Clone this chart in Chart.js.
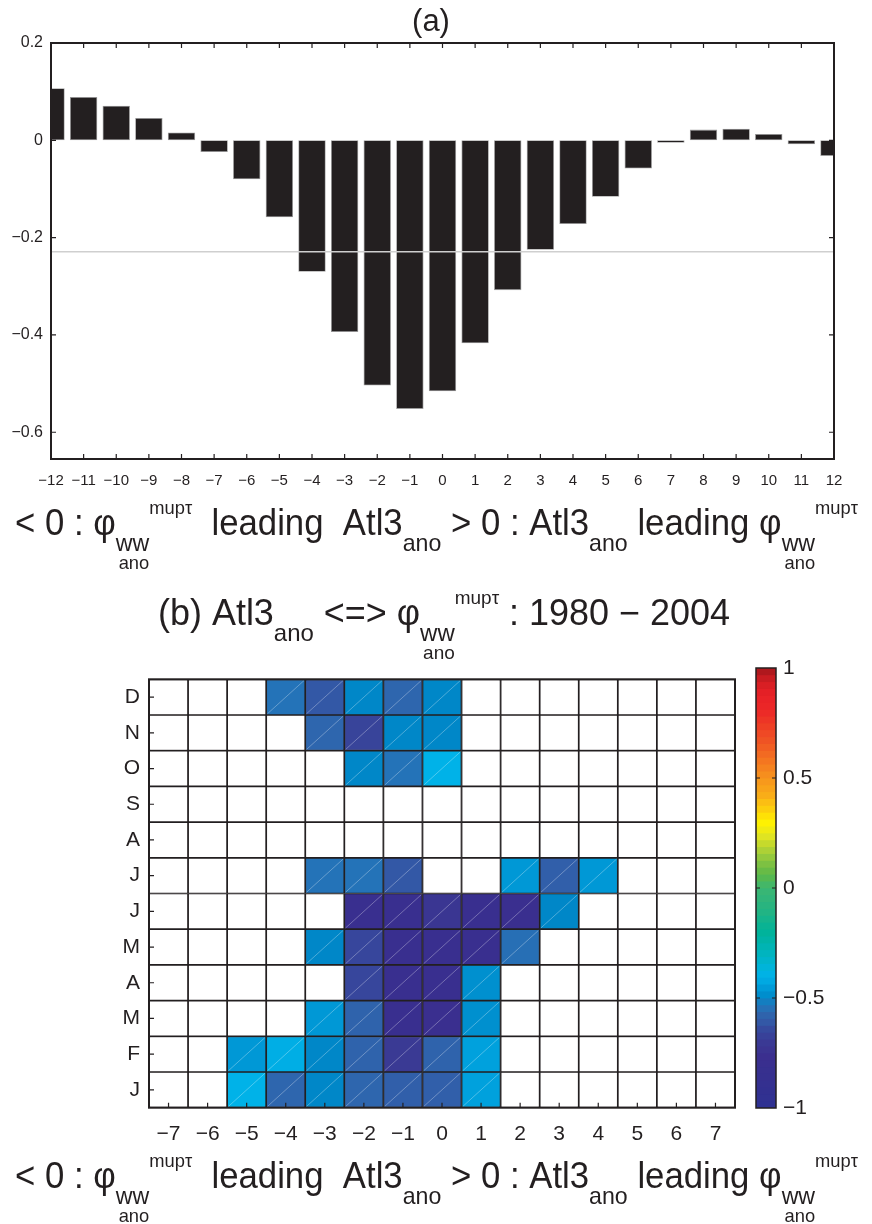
<!DOCTYPE html>
<html>
<head>
<meta charset="utf-8">
<script src="https://cdn.jsdelivr.net/npm/chart.js@4.4.1/dist/chart.umd.min.js"></script>
<style>
  html, body { margin: 0; padding: 0; background: #fff; }
  body { width: 872px; height: 1224px; position: relative; overflow: hidden; }
  canvas { position: absolute; }
  #lagChart { left: 0; top: 0; }
  #monthChart { left: 0; top: 590px; }
  #colorBar { left: 700px; top: 640px; }
</style>
</head>
<body>
<canvas id="lagChart" width="872" height="590"></canvas>
<canvas id="monthChart" width="872" height="634"></canvas>
<canvas id="colorBar" width="172" height="500"></canvas>
<script>
// ---- panel (a): lagged correlation, lags in months ----
const lagsA = [-12, -11, -10, -9, -8, -7, -6, -5, -4, -3, -2, -1, 0, 1, 2, 3, 4, 5, 6, 7, 8, 9, 10, 11, 12];
const corrA = [0.107, 0.089, 0.071, 0.046, 0.016, -0.024, -0.080, -0.158, -0.270, -0.394, -0.504, -0.552,
               -0.516, -0.417, -0.308, -0.225, -0.172, -0.116, -0.058, -0.005, 0.022, 0.024, 0.013, -0.008, -0.032];
const sigLevelA = -0.229;
const yTicksA = [-0.6, -0.4, -0.2, 0, 0.2];

// ---- panel (b): correlation by calendar month and lag ----
const lagsB = [-7, -6, -5, -4, -3, -2, -1, 0, 1, 2, 3, 4, 5, 6, 7];
const monthLetters = ['J', 'F', 'M', 'A', 'M', 'J', 'J', 'A', 'S', 'O', 'N', 'D'];
const _ = null; // not significant
const jan = [_, _, -0.40, -0.57, -0.50, -0.57, -0.59, -0.59, -0.44, _, _, _, _, _, _];
const feb = [_, _, -0.46, -0.41, -0.50, -0.58, -0.70, -0.58, -0.44, _, _, _, _, _, _];
const mar = [_, _, _, _, -0.46, -0.58, -0.80, -0.78, -0.48, _, _, _, _, _, _];
const apr = [_, _, _, _, _, -0.65, -0.80, -0.80, -0.48, _, _, _, _, _, _];
const may = [_, _, _, _, -0.50, -0.65, -0.80, -0.80, -0.80, -0.55, _, _, _, _, _];
const jun = [_, _, _, _, _, -0.80, -0.80, -0.72, -0.80, -0.78, -0.50, _, _, _, _];
const jul = [_, _, _, _, -0.54, -0.54, -0.61, _, _, -0.46, -0.59, -0.46, _, _, _];
const aug = [_, _, _, _, _, _, _, _, _, _, _, _, _, _, _];
const sep = [_, _, _, _, _, _, _, _, _, _, _, _, _, _, _];
const oct = [_, _, _, _, _, -0.50, -0.54, -0.40, _, _, _, _, _, _, _];
const nov = [_, _, _, _, -0.57, -0.66, -0.50, -0.50, _, _, _, _, _, _, _];
const dec = [_, _, _, -0.54, -0.61, -0.50, -0.57, -0.50, _, _, _, _, _, _, _];
const monthRows = [jan, feb, mar, apr, may, jun, jul, aug, sep, oct, nov, dec];
const colorBarTicks = [-1, -0.5, 0, 0.5, 1];

// ---- colour scale ----
const colorStops = [
  [-1.00, '#2e3192'], [-0.85, '#36308f'], [-0.76, '#3b2f8f'], [-0.70, '#3a3a94'],
  [-0.65, '#37469c'], [-0.61, '#3358a6'], [-0.57, '#2e66ae'], [-0.54, '#2473b8'],
  [-0.52, '#1a7cbe'], [-0.50, '#0087c8'], [-0.46, '#0098d6'], [-0.43, '#00a6e0'],
  [-0.40, '#00b2e8'], [-0.35, '#00b4d6'], [-0.30, '#00b4c0'], [-0.20, '#00b39a'],
  [-0.10, '#24b482'], [0.00, '#3cb672'], [0.06, '#5cb848'], [0.12, '#84c341'],
  [0.18, '#b3d334'], [0.24, '#e4e620'], [0.30, '#fff200'], [0.35, '#fdd30b'],
  [0.42, '#f9ae18'], [0.50, '#f7941d'], [0.58, '#f47520'], [0.65, '#f05a24'],
  [0.73, '#ee4025'], [0.80, '#ec2a27'], [0.88, '#e82027'], [0.94, '#d21e23'], [1.00, '#a3161b']
];
function hexRgb(h) { return [1, 3, 5].map(i => parseInt(h.substr(i, 2), 16)); }
function colorFor(v) {
  if (v === null || v === undefined) return '#ffffff';
  v = Math.max(-1, Math.min(1, v));
  for (let i = 1; i < colorStops.length; i++) {
    const [v1, c1] = colorStops[i];
    if (v <= v1) {
      const [v0, c0] = colorStops[i - 1];
      const t = (v - v0) / (v1 - v0);
      const a = hexRgb(c0), b = hexRgb(c1);
      const m = a.map((x, k) => Math.round(x + (b[k] - x) * t));
      return `rgb(${m[0]},${m[1]},${m[2]})`;
    }
  }
  return colorStops[colorStops.length - 1][1];
}

const INK = '#231f20';
const FAMILY = "'Liberation Sans', Arial, Helvetica, sans-serif";
Chart.defaults.font.family = FAMILY;
Chart.defaults.color = INK;
const fmt = v => (v < 0 ? '\u2212' : '') + String(Math.abs(v));

// Text with sub/superscripts, stretched horizontally to span [x0, x1]
function drawRich(ctx, pieces, x0, x1, baseline) {
  let cx = 0;
  const laid = pieces.map(p => {
    ctx.font = `${p.s}px ${FAMILY}`;
    const w = ctx.measureText(p.t).width;
    const q = Object.assign({}, p, { x: cx + (p.dx || 0) });
    if (p.adv !== false) cx += w;
    return q;
  });
  const k = (x1 - x0) / cx;
  ctx.save();
  ctx.fillStyle = INK;
  ctx.textBaseline = 'alphabetic';
  ctx.textAlign = 'left';
  ctx.translate(x0, baseline);
  ctx.scale(k, 1);
  laid.forEach(p => { ctx.font = `${p.s}px ${FAMILY}`; ctx.fillText(p.t, p.x, p.dy || 0); });
  ctx.restore();
}
// phi with "ww" subscript, "ano" below it and "mupτ" superscript
function phiGroup(sub, subsub, sup) {
  return [
    { t: 'ano', s: subsub, dy: 34, adv: false, dx: 3 },
    { t: 'ww', s: sub, dy: 16 },
    { t: 'mup\u03c4', s: sup, dy: -21 }
  ];
}
function leadLabel(M, S, SS) {
  return [
    { t: '< 0 : \u03c6', s: M },
    ...phiGroup(S, SS, SS),
    { t: '  leading  Atl3', s: M },
    { t: 'ano', s: S, dy: 16 },
    { t: ' > 0 : Atl3', s: M },
    { t: 'ano', s: S, dy: 16 },
    { t: ' leading \u03c6', s: M },
    ...phiGroup(S, SS, SS)
  ];
}

// Inward tick marks and a frame around the plotting area
const innerTicks = {
  id: 'innerTicks',
  afterDatasetsDraw(chart, args, o) {
    const { ctx, chartArea: a, scales } = chart;
    ctx.save();
    ctx.strokeStyle = INK;
    ctx.lineWidth = o.width || 1.2;
    ctx.beginPath();
    const sx = scales.x, sy = scales.y;
    (o.x || []).forEach(edge => sx.ticks.forEach((t, i) => {
      const px = sx.getPixelForTick(i);
      if (px <= a.left + 1 || px >= a.right - 1) return;
      const y0 = edge === 'bottom' ? a.bottom : a.top, d = edge === 'bottom' ? -1 : 1;
      ctx.moveTo(px, y0); ctx.lineTo(px, y0 + d * o.len);
    }));
    (o.y || []).forEach(edge => sy.ticks.forEach((t, i) => {
      const py = sy.getPixelForTick(i);
      if (py <= a.top + 1 || py >= a.bottom - 1) return;
      const x0 = edge === 'left' ? a.left : a.right, d = edge === 'left' ? 1 : -1;
      ctx.moveTo(x0, py); ctx.lineTo(x0 + d * o.len, py);
    }));
    ctx.stroke();
    if (o.frame) {
      ctx.lineWidth = o.frame;
      ctx.strokeRect(a.left, a.top, a.width, a.height);
    }
    ctx.restore();
  }
};

// ---------------- panel (a) ----------------
new Chart(document.getElementById('lagChart'), {
  type: 'bar',
  data: {
    datasets: [
      {
        type: 'line',
        data: [{ x: lagsA[0], y: sigLevelA }, { x: lagsA[lagsA.length - 1], y: sigLevelA }],
        borderColor: '#cfcfcf', borderWidth: 1.3, pointRadius: 0, order: 0, clip: 0
      },
      {
        type: 'bar',
        data: lagsA.map((l, i) => ({ x: l, y: corrA[i] })),
        backgroundColor: INK, borderColor: '#9c9c9c', borderWidth: 0.8, borderSkipped: false,
        barPercentage: 0.84, categoryPercentage: 1, order: 1, clip: 0
      }
    ]
  },
  options: {
    responsive: false, animation: false,
    layout: { padding: { top: 43, right: 38, left: 0, bottom: 0 } },
    plugins: {
      legend: { display: false }, tooltip: { enabled: false },
      innerTicks: { x: ['bottom', 'top'], y: ['left', 'right'], len: 5, width: 1.2, frame: 2 }
    },
    scales: {
      x: {
        type: 'linear', min: -12, max: 12, offset: false,
        afterBuildTicks: s => { s.ticks = lagsA.map(v => ({ value: v })); },
        afterFit: s => { s.height = 590 - 459; },
        grid: { display: false, drawTicks: false }, border: { display: false },
        ticks: { autoSkip: false, maxRotation: 0, padding: 13, font: { size: 15 }, callback: v => fmt(v) }
      },
      y: {
        min: -0.655, max: 0.2,
        afterBuildTicks: s => { s.ticks = yTicksA.map(v => ({ value: v })); },
        afterFit: s => { s.width = 51; },
        grid: { display: false, drawTicks: false }, border: { display: false },
        ticks: { padding: 8, font: { size: 16 }, callback: v => fmt(v) }
      }
    }
  },
  plugins: [innerTicks, {
    id: 'labelsA',
    afterDraw(chart) {
      const ctx = chart.ctx;
      ctx.save();
      ctx.fillStyle = INK;
      ctx.font = `31px ${FAMILY}`;
      ctx.textAlign = 'center';
      ctx.fillText('(a)', 431, 31);
      ctx.restore();
      drawRich(ctx, leadLabel(36, 24, 19), 15, 858, 535);
    }
  }]
});

// ---------------- panel (b) ----------------
const cellsB = [];
monthRows.forEach((row, r) => row.forEach((v, c) => {
  cellsB.push({ x: String(lagsB[c]), y: [r + 0.5, r + 1.5], v: v });
}));

new Chart(document.getElementById('monthChart'), {
  type: 'bar',
  data: {
    labels: lagsB.map(String),
    datasets: [{
      data: cellsB,
      backgroundColor: c => (c.raw ? colorFor(c.raw.v) : '#fff'),
      borderColor: INK, borderWidth: 1.2, borderSkipped: false,
      barPercentage: 1, categoryPercentage: 1
    }]
  },
  options: {
    responsive: false, animation: false,
    layout: { padding: { top: 89.3, right: 137, left: 0, bottom: 0 } },
    plugins: {
      legend: { display: false }, tooltip: { enabled: false },
      innerTicks: { x: ['bottom'], y: ['left'], len: 5, width: 1.2, frame: 2 }
    },
    scales: {
      x: {
        type: 'category',
        afterFit: s => { s.height = 634 - 517.7; },
        grid: { display: false, drawTicks: false }, border: { display: false },
        ticks: { autoSkip: false, maxRotation: 0, padding: 14, font: { size: 21 }, callback: (v, i) => fmt(lagsB[i]) }
      },
      y: {
        min: 0.5, max: 12.5,
        afterBuildTicks: s => { s.ticks = monthLetters.map((m, i) => ({ value: i + 1 })); },
        afterFit: s => { s.width = 149; },
        grid: { display: false, drawTicks: false }, border: { display: false },
        ticks: { padding: 9, font: { size: 21 }, callback: v => monthLetters[v - 1] }
      }
    }
  },
  plugins: [{
    id: 'cellDiagonals',
    afterDatasetsDraw(chart) {
      const ctx = chart.ctx;
      ctx.save();
      ctx.strokeStyle = 'rgba(255,255,255,0.38)';
      ctx.lineWidth = 0.8;
      ctx.beginPath();
      chart.getDatasetMeta(0).data.forEach((el, i) => {
        if (cellsB[i].v === null) return;
        const { x, y, base, width } = el.getProps(['x', 'y', 'base', 'width'], true);
        const top = Math.min(y, base), bot = Math.max(y, base);
        ctx.moveTo(x - width / 2 + 1.2, bot - 1.2);
        ctx.lineTo(x + width / 2 - 1.2, top + 1.2);
      });
      ctx.stroke();
      ctx.restore();
    }
  }, innerTicks, {
    id: 'labelsB',
    afterDraw(chart) {
      const ctx = chart.ctx;
      drawRich(ctx, [
        { t: '(b) Atl3', s: 36 },
        { t: 'ano', s: 24, dy: 16 },
        { t: ' <=> \u03c6', s: 36 },
        ...phiGroup(24, 19, 19),
        { t: ' : 1980 \u2212 2004', s: 36 }
      ], 158, 730, 35);
      drawRich(ctx, leadLabel(36, 24, 19), 15, 858, 598);
    }
  }]
});

// ---------------- colour bar ----------------
const nBands = 64;
const bands = [];
for (let i = 0; i < nBands; i++) {
  const lo = -1 + 2 * i / nBands, hi = lo + 2 / nBands;
  bands.push({ x: 'cb', y: [lo, Math.min(1, hi + 0.004)], c: colorFor((lo + hi) / 2) });
}
new Chart(document.getElementById('colorBar'), {
  type: 'bar',
  data: {
    labels: ['cb'],
    datasets: [{
      data: bands,
      backgroundColor: c => (c.raw ? c.raw.c : '#fff'),
      borderWidth: 0, barPercentage: 1, categoryPercentage: 1
    }]
  },
  options: {
    responsive: false, animation: false,
    layout: { padding: { top: 28, left: 56, bottom: 32, right: 0 } },
    plugins: {
      legend: { display: false }, tooltip: { enabled: false },
      innerTicks: { x: [], y: ['left', 'right'], len: 4, width: 1.2, frame: 1.5 }
    },
    scales: {
      x: { display: false },
      y: {
        position: 'right', min: -1, max: 1,
        afterBuildTicks: s => { s.ticks = colorBarTicks.map(v => ({ value: v })); },
        afterFit: s => { s.width = 172 - 56 - 20; },
        grid: { display: false, drawTicks: false }, border: { display: false },
        ticks: { padding: 7, font: { size: 21 }, callback: v => fmt(v) }
      }
    }
  },
  plugins: [innerTicks]
});
</script>
</body>
</html>
